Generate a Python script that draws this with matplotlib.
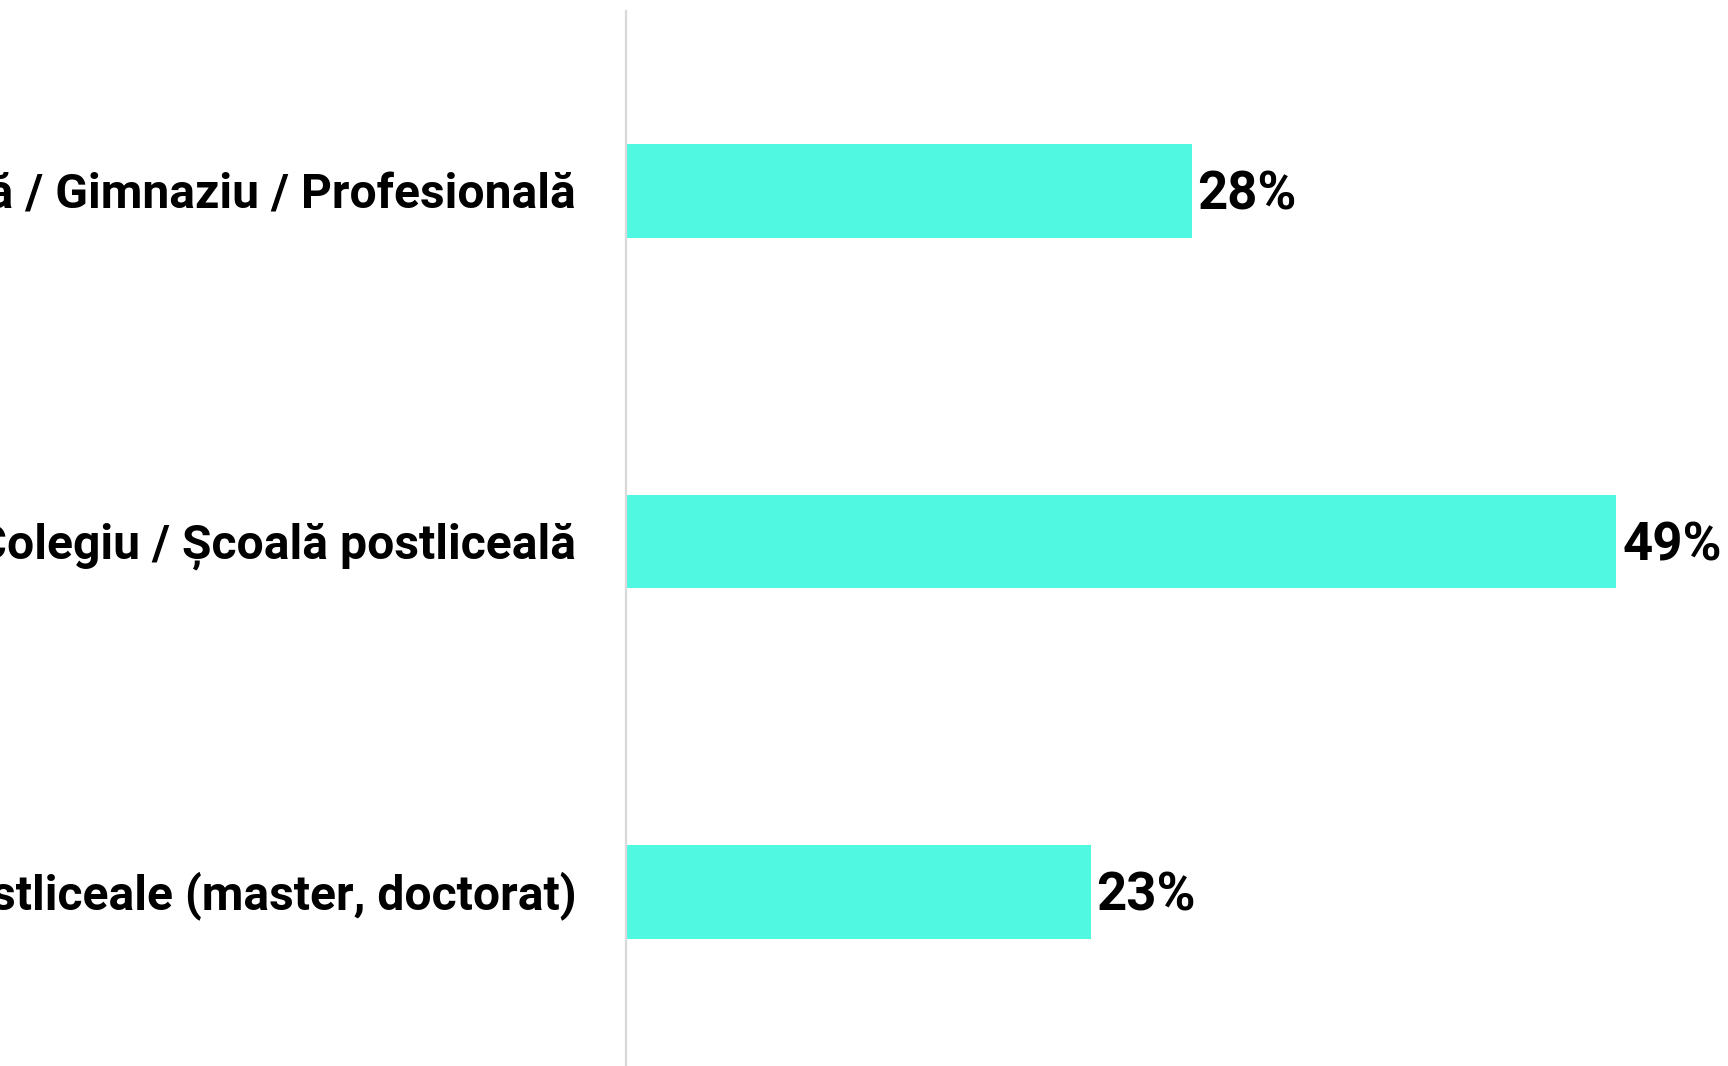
import matplotlib
matplotlib.use("Agg")
import matplotlib.pyplot as plt

categories = [
    "Școală primară / Gimnaziu / Profesională",
    "Liceu / Colegiu / Școală postliceală",
    "Studii superioare / postliceale (master, doctorat)",
]
values = [28, 49, 23]
value_labels = ["28%", "49%", "23%"]

FONT = ["Roboto", "DejaVu Sans"]
BAR_COLOR = "#50F8E1"

W, H = 1728, 1066
fig = plt.figure(figsize=(W / 100, H / 100), dpi=100)
fig.patch.set_facecolor("white")

left_px, top_px = 625.5, 11
ax = fig.add_axes([left_px / W, 0, 1 - left_px / W, 1 - top_px / H])

y = list(range(len(categories)))
ax.barh(y, values, height=0.268, color=BAR_COLOR, edgecolor="none")

ax.set_xlim(0, (W - left_px) / 20.22)
ax.set_ylim(2.4964, -0.5136)

ax.set_yticks(y)
ax.set_yticklabels([])
ax.tick_params(axis="y", length=0)
ax.set_xticks([])

for s in ("top", "right", "bottom"):
    ax.spines[s].set_visible(False)
ax.spines["left"].set_color("#d9d9d9")
ax.spines["left"].set_linewidth(1.6)

LABEL_SIZE = 34.6
VALUE_SIZE = 38
CAP = 0.711

for yi, cat in zip(y, categories):
    ax.annotate(cat, xy=(0, yi), xycoords=("axes fraction", "data"),
                xytext=(-35.5, -LABEL_SIZE * CAP / 2), textcoords="offset points",
                ha="right", va="baseline", fontfamily=FONT, fontweight="bold",
                fontsize=LABEL_SIZE, color="black", annotation_clip=False)

for yi, v, lab in zip(y, values, value_labels):
    ax.annotate(lab, xy=(v, yi), xytext=(4.2, -VALUE_SIZE * CAP / 2), textcoords="offset points",
                ha="left", va="baseline", fontfamily=FONT, fontweight="bold",
                fontsize=VALUE_SIZE, color="black", annotation_clip=False)

fig.savefig("out.png", dpi=100, facecolor="white")
